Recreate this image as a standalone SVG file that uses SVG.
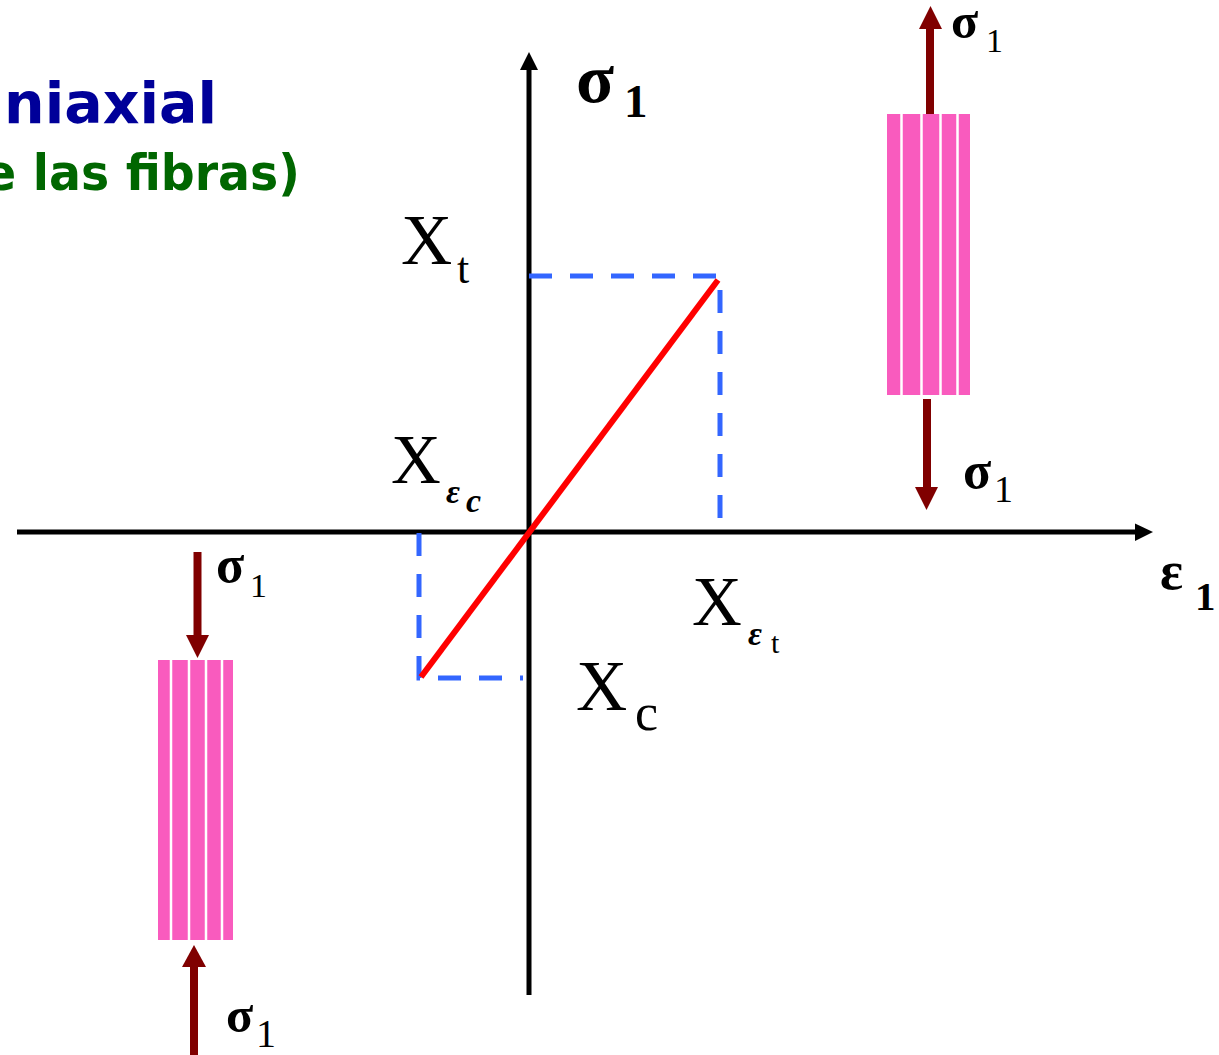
<svg xmlns="http://www.w3.org/2000/svg" width="1219" height="1055" viewBox="0 0 1219 1055">
<style>
.axis{stroke:#000;stroke-width:5;fill:none}
.head{fill:#000}
.dash{stroke:#3366FF;stroke-width:5;fill:none;stroke-dasharray:23 18}
.curve{stroke:#FF0000;stroke-width:6;fill:none}
.force{stroke:#800000;stroke-width:8;fill:none}
.fhead{fill:#800000}
.block{fill:#F95BBE}
.sep{stroke:#FFFFFF;stroke-width:2.5}
.ser{font-family:"Liberation Serif","Times New Roman",serif;fill:#000}
.gr{font-weight:bold}
.title{font-family:"DejaVu Sans",Verdana,sans-serif;font-weight:bold}
</style>
<rect width="1219" height="1055" fill="#FFFFFF"/>
<g id="title">
<text class="title" x="217" y="123" font-size="57" fill="#000099" text-anchor="end">niaxial</text>
<text class="title" x="-16" y="190" font-size="49" fill="#006600" textLength="316" lengthAdjust="spacingAndGlyphs">e las fibras)</text>
</g>
<g id="connectors">
<line class="axis" x1="529" y1="995" x2="529" y2="68"/>
<polygon class="head" points="520,70 538,70 529,52"/>
<line class="axis" x1="17" y1="532" x2="1137" y2="532"/>
<polygon class="head" points="1135,523.5 1135,541 1153,532"/>
<polyline class="dash" points="529,276 720,276 720,532"/>
<polyline class="dash" points="419,533 419,678 523,678"/>
<line class="curve" x1="421" y1="677" x2="718" y2="280"/>
<line class="force" x1="930" y1="114" x2="930" y2="27"/>
<polygon class="fhead" points="919,29 942,29 930.5,6"/>
<line class="force" x1="927" y1="399" x2="927" y2="489"/>
<polygon class="fhead" points="915,487 938,487 926.5,510"/>
<line class="force" x1="197.5" y1="552" x2="197.5" y2="637"/>
<polygon class="fhead" points="186,635 209,635 197.5,658"/>
<line class="force" x1="194" y1="1055" x2="194" y2="965"/>
<polygon class="fhead" points="182,967 206,967 194,945"/>
</g>
<g id="block-tension">
<rect class="block" x="887" y="114" width="83" height="281"/>
<line class="sep" x1="901.5" y1="114" x2="901.5" y2="395"/>
<line class="sep" x1="921.5" y1="114" x2="921.5" y2="395"/>
<line class="sep" x1="940.5" y1="114" x2="940.5" y2="395"/>
<line class="sep" x1="957.5" y1="114" x2="957.5" y2="395"/>
</g>
<g id="block-compression">
<rect class="block" x="158" y="660" width="75" height="280"/>
<line class="sep" x1="171" y1="660" x2="171" y2="940"/>
<line class="sep" x1="189" y1="660" x2="189" y2="940"/>
<line class="sep" x1="206" y1="660" x2="206" y2="940"/>
<line class="sep" x1="222" y1="660" x2="222" y2="940"/>
</g>
<g id="labels">
<text class="ser gr" x="576" y="102" font-size="70">σ</text>
<text class="ser" x="624" y="117" font-size="47" font-weight="bold">1</text>
<text class="ser gr" x="1160" y="589" font-size="54">ε</text>
<text class="ser" x="1195" y="610" font-size="41" font-weight="bold">1</text>
<text class="ser" x="401" y="264" font-size="71">X</text>
<text class="ser" x="457" y="283" font-size="44">t</text>
<text class="ser" x="576" y="710" font-size="71">X</text>
<text class="ser" x="635" y="730" font-size="52">c</text>
<text class="ser" x="391" y="483" font-size="69">X</text>
<text class="ser" x="446" y="503" font-size="34" font-weight="bold" font-style="italic">ε</text>
<text class="ser" x="466" y="512" font-size="34" font-weight="bold" font-style="italic">c</text>
<text class="ser" x="692" y="625" font-size="69">X</text>
<text class="ser" x="748" y="645" font-size="34" font-weight="bold" font-style="italic">ε</text>
<text class="ser" x="771" y="653" font-size="30">t</text>
<text class="ser gr" x="951" y="38" font-size="50">σ</text>
<text class="ser" x="986" y="52" font-size="34">1</text>
<text class="ser gr" x="963" y="488" font-size="52">σ</text>
<text class="ser" x="994" y="502" font-size="38">1</text>
<text class="ser gr" x="216" y="582" font-size="52">σ</text>
<text class="ser" x="250" y="597" font-size="34">1</text>
<text class="ser gr" x="226" y="1032" font-size="50">σ</text>
<text class="ser" x="256" y="1047" font-size="40">1</text>
</g>
</svg>
